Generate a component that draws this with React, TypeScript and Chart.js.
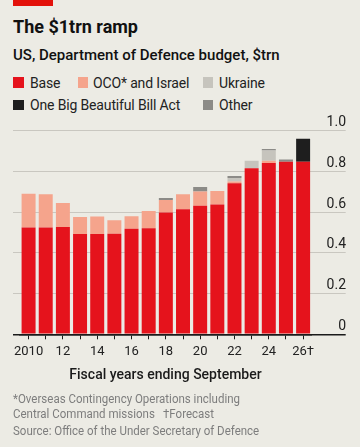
import React, { useEffect, useRef } from 'react';
import { Chart, registerables } from 'chart.js';

Chart.register(...registerables);

const years = ['2010','2011','2012','2013','2014','2015','2016','2017','2018','2019','2020','2021','2022','2023','2024','2025','2026'];
const xTickLabels = ['2010','','12','','14','','16','','18','','20','','22','','24','','26†'];
const baseValues = [0.524,0.524,0.527,0.493,0.493,0.494,0.519,0.521,0.598,0.614,0.631,0.637,0.742,0.816,0.841,0.847,0.847];
const ocoValues = [0.166,0.164,0.118,0.083,0.085,0.066,0.061,0.085,0.062,0.074,0.070,0.067,0.008,0,0.011,0,0];
const ukraineValues = [0,0,0,0,0,0,0,0,0,0,0,0,0.018,0.036,0.051,0,0];
const otherValues = [0,0,0,0,0,0,0,0,0.010,0,0.022,0,0.010,0,0.007,0.011,0];
const obbbaValues = [0,0,0,0,0,0,0,0,0,0,0,0,0,0,0,0,0.113];
const yMin = 0;
const yMax = 1;
const yStep = 0.2;

const BG = '#ECEBE4';
const GRID = '#C9C7C0';
const AXIS = '#1A1A1A';
const C_BASE = '#E5131C';
const C_OCO = '#F5A48C';
const C_UKR = '#C6C4BD';
const C_OTHER = '#8C8B87';
const C_OBBBA = '#1E1E1E';
const FONT = 'Roboto, "Open Sans", sans-serif';

function T(props: { x: number; baseline: number; size: number; weight?: number; color?: string; children: React.ReactNode; style?: React.CSSProperties }) {
  const { x, baseline, size, weight = 400, color = '#1a1a1a', children, style } = props;
  return (
    <div
      style={{
        position: 'absolute',
        left: x,
        top: baseline - 0.842 * size,
        fontFamily: FONT,
        fontSize: size,
        lineHeight: size + 'px',
        fontWeight: weight,
        color,
        whiteSpace: 'nowrap',
        ...style,
      }}
    >
      {children}
    </div>
  );
}

function Sq(props: { x: number; y: number; color: string }) {
  return <div style={{ position: 'absolute', left: props.x, top: props.y, width: 10.5, height: 10.5, background: props.color }} />;
}

const gridColor = (ctx: any) => (ctx.tick && ctx.tick.value === 0 ? AXIS : GRID);
const gridWidth = (ctx: any) => (ctx.tick && ctx.tick.value === 0 ? 1.5 : 1);

const legendStyle: React.CSSProperties = { letterSpacing: '-0.15px' };
const noteStyle: React.CSSProperties = { transform: 'scaleX(0.92)', transformOrigin: 'left center' };

export default function App() {
  const ref = useRef<HTMLCanvasElement | null>(null);

  useEffect(() => {
    if (!ref.current) return;
    const yLabelPlugin = {
      id: 'yLabels',
      afterDraw(chart: any) {
        const s = chart.scales.y;
        const ctx = chart.ctx;
        ctx.save();
        ctx.font = '14px ' + FONT;
        ctx.fillStyle = '#222';
        ctx.textAlign = 'right';
        ctx.textBaseline = 'middle';
        for (const t of s.ticks) {
          const v = t.value;
          const label = Math.abs(v) < 1e-9 ? '0' : Number(v).toFixed(1);
          ctx.fillText(label, chart.chartArea.right + 34.3, s.getPixelForValue(v) - 8);
        }
        ctx.restore();
      },
    };
    const chart = new Chart(ref.current, {
      type: 'bar',
      data: {
        labels: years,
        datasets: [
          { label: 'Base', data: baseValues, backgroundColor: C_BASE },
          { label: 'OCO* and Israel', data: ocoValues, backgroundColor: C_OCO },
          { label: 'Ukraine', data: ukraineValues, backgroundColor: C_UKR },
          { label: 'Other', data: otherValues, backgroundColor: C_OTHER },
          { label: 'One Big Beautiful Bill Act', data: obbbaValues, backgroundColor: C_OBBBA },
        ],
      },
      options: {
        responsive: false,
        maintainAspectRatio: false,
        animation: false,
        datasets: { bar: { categoryPercentage: 1, barPercentage: 0.815, borderWidth: 0 } },
        layout: { padding: { left: 13, right: 14.3, top: 130.7, bottom: 84.7 } },
        plugins: { legend: { display: false }, tooltip: { enabled: false } },
        scales: {
          x: {
            stacked: true,
            offset: true,
            z: 1,
            grid: { display: true, drawOnChartArea: false, offset: false, tickLength: 5, tickColor: AXIS, tickWidth: 1 },
            border: { display: true, color: AXIS, width: 1.5 },
            ticks: {
              autoSkip: false,
              maxRotation: 0,
              minRotation: 0,
              padding: 5,
              color: '#222',
              font: { family: FONT, size: 13 },
              callback: (_v: any, i: number) => xTickLabels[i],
            },
            afterFit: (s: any) => { s.height = 28; },
          },
          y: {
            stacked: true,
            position: 'right',
            min: yMin,
            max: yMax,
            ticks: { stepSize: yStep, display: false },
            grid: { color: gridColor, lineWidth: gridWidth, tickLength: 34, drawTicks: true },
            border: { display: false },
          },
          y2: {
            position: 'left',
            min: yMin,
            max: yMax,
            ticks: { stepSize: yStep, display: false },
            grid: { drawOnChartArea: false, tickLength: 7, drawTicks: true, color: gridColor, lineWidth: gridWidth },
            border: { display: false },
          },
        },
      } as any,
      plugins: [yLabelPlugin],
    });
    return () => chart.destroy();
  }, []);

  return (
    <div style={{ position: 'absolute', left: 0, top: 0, width: 360, height: 447, background: BG, overflow: 'hidden' }}>
      <div style={{ position: 'absolute', left: 13, top: 0, width: 40, height: 5.7, background: '#E3120B' }} />
      <T x={13} baseline={33} size={18} weight={700} color="#111">The $1trn ramp</T>
      <T x={13} baseline={61} size={15} weight={500} color="#111">US, Department of Defence budget, $trn</T>

      <Sq x={13.3} y={77} color={C_BASE} />
      <T x={30} baseline={87.3} size={14} color="#222" style={legendStyle}>Base</T>
      <Sq x={77.7} y={77} color={C_OCO} />
      <T x={93} baseline={87.3} size={14} color="#222" style={legendStyle}>OCO* and Israel</T>
      <Sq x={202.7} y={77} color={C_UKR} />
      <T x={219} baseline={87.3} size={14} color="#222" style={legendStyle}>Ukraine</T>
      <Sq x={13.3} y={99.5} color={C_OBBBA} />
      <T x={30} baseline={110} size={14} color="#222" style={legendStyle}>One Big Beautiful Bill Act</T>
      <Sq x={202.7} y={99.5} color={C_OTHER} />
      <T x={219} baseline={110} size={14} color="#222" style={legendStyle}>Other</T>

      <canvas ref={ref} width={360} height={447} style={{ position: 'absolute', left: 0, top: 0, width: 360, height: 447 }} />

      <div style={{ position: 'absolute', left: 0, width: 331, top: 379 - 0.842 * 14, textAlign: 'center', fontFamily: FONT, fontSize: 14, lineHeight: '14px', fontWeight: 500, color: '#1a1a1a' }}>
        Fiscal years ending September
      </div>
      <T x={13} baseline={403.3} size={12.5} color="#7d7d7d" style={noteStyle}>*Overseas Contingency Operations including</T>
      <T x={13} baseline={419} size={12.5} color="#7d7d7d" style={noteStyle}>Central Command missions</T>
      <T x={163} baseline={419} size={12.5} color="#7d7d7d" style={noteStyle}>†Forecast</T>
      <T x={13} baseline={435.3} size={12.5} color="#7d7d7d" style={noteStyle}>Source: Office of the Under Secretary of Defence</T>
    </div>
  );
}
